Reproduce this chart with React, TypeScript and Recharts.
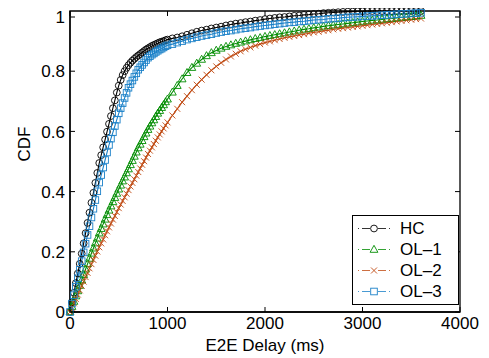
import { LineChart, Line, XAxis, YAxis, Legend, ReferenceArea } from 'recharts'

// E2E delay samples (ms): dense up to 1000, then every 50 ms
const delays = [
  0, 20, 40, 60, 80, 100, 120, 140, 160, 180, 200, 220, 240, 260, 280, 300, 320, 340, 360, 380,
  400, 420, 440, 460, 480, 500, 520, 540, 560, 580, 600, 620, 640, 660, 680, 700, 720, 740, 760, 780,
  800, 820, 840, 860, 880, 900, 920, 940, 960, 980, 1000,
  1050, 1100, 1150, 1200, 1250, 1300, 1350, 1400, 1450, 1500, 1550, 1600, 1650, 1700, 1750, 1800,
  1850, 1900, 1950, 2000, 2050, 2100, 2150, 2200, 2250, 2300, 2350, 2400, 2450, 2500, 2550, 2600,
  2650, 2700, 2750, 2800, 2850, 2900, 2950, 3000, 3050, 3100, 3150, 3200, 3250, 3300, 3350, 3400,
  3450, 3500, 3550, 3600,
]

const hc = [
  0, 0.032, 0.064, 0.096, 0.128, 0.16, 0.194, 0.228, 0.262, 0.296, 0.33, 0.363, 0.396, 0.429, 0.462, 0.495, 0.521, 0.547, 0.573, 0.599,
  0.625, 0.651, 0.677, 0.703, 0.729, 0.752, 0.771, 0.787, 0.8, 0.811, 0.82, 0.828, 0.835, 0.841, 0.847, 0.852, 0.857, 0.862, 0.867, 0.872,
  0.876, 0.88, 0.884, 0.887, 0.89, 0.893, 0.896, 0.898, 0.9, 0.903, 0.905,
  0.909, 0.912, 0.916, 0.921, 0.926, 0.931, 0.935, 0.938, 0.942, 0.945, 0.948, 0.952, 0.955, 0.958, 0.96, 0.963,
  0.965, 0.968, 0.97, 0.973, 0.975, 0.977, 0.979, 0.98, 0.982, 0.984, 0.985, 0.987, 0.988, 0.99, 0.991, 0.993,
  0.994, 0.995, 0.996, 0.997, 0.998, 0.998, 0.999, 0.999, 1, 1, 1, 1, 1, 1, 1, 1,
  1, 1, 1, 1,
]

const ol1 = [
  0, 0.018, 0.035, 0.053, 0.07, 0.088, 0.106, 0.124, 0.142, 0.16, 0.178, 0.195, 0.212, 0.229, 0.245, 0.262, 0.277, 0.292, 0.308, 0.323,
  0.338, 0.352, 0.366, 0.38, 0.394, 0.408, 0.421, 0.435, 0.448, 0.462, 0.475, 0.489, 0.503, 0.517, 0.531, 0.545, 0.557, 0.569, 0.582, 0.594,
  0.606, 0.617, 0.628, 0.638, 0.649, 0.66, 0.669, 0.679, 0.688, 0.698, 0.707,
  0.73, 0.752, 0.774, 0.795, 0.812, 0.826, 0.839, 0.851, 0.861, 0.869, 0.876, 0.882, 0.887, 0.892, 0.896, 0.9,
  0.904, 0.908, 0.911, 0.915, 0.918, 0.921, 0.924, 0.927, 0.93, 0.933, 0.936, 0.939, 0.941, 0.944, 0.946, 0.949,
  0.951, 0.953, 0.955, 0.957, 0.959, 0.961, 0.963, 0.965, 0.967, 0.969, 0.97, 0.972, 0.974, 0.975, 0.977, 0.979,
  0.98, 0.982, 0.983, 0.985,
]

const ol2 = [
  0, 0.014, 0.029, 0.043, 0.058, 0.072, 0.087, 0.101, 0.116, 0.13, 0.145, 0.159, 0.173, 0.187, 0.201, 0.215, 0.228, 0.241, 0.255, 0.268,
  0.281, 0.294, 0.307, 0.319, 0.332, 0.345, 0.357, 0.369, 0.381, 0.393, 0.405, 0.417, 0.429, 0.441, 0.453, 0.465, 0.477, 0.489, 0.501, 0.513,
  0.525, 0.536, 0.547, 0.558, 0.569, 0.58, 0.59, 0.6, 0.61, 0.62, 0.63,
  0.653, 0.675, 0.697, 0.717, 0.737, 0.755, 0.772, 0.788, 0.803, 0.816, 0.828, 0.839, 0.849, 0.858, 0.866, 0.873,
  0.879, 0.885, 0.89, 0.895, 0.899, 0.903, 0.907, 0.911, 0.914, 0.917, 0.92, 0.923, 0.926, 0.929, 0.931, 0.934,
  0.936, 0.939, 0.941, 0.943, 0.945, 0.947, 0.949, 0.951, 0.953, 0.955, 0.957, 0.959, 0.961, 0.963, 0.965, 0.967,
  0.969, 0.971, 0.973, 0.975,
]

const ol3 = [
  0, 0.028, 0.056, 0.084, 0.112, 0.14, 0.169, 0.198, 0.227, 0.256, 0.285, 0.314, 0.343, 0.372, 0.401, 0.43, 0.455, 0.48, 0.505, 0.53,
  0.555, 0.576, 0.597, 0.618, 0.639, 0.66, 0.677, 0.694, 0.711, 0.728, 0.745, 0.757, 0.769, 0.781, 0.793, 0.805, 0.813, 0.821, 0.829, 0.837,
  0.845, 0.85, 0.855, 0.859, 0.864, 0.868, 0.872, 0.875, 0.879, 0.883, 0.886,
  0.89, 0.895, 0.9, 0.905, 0.909, 0.913, 0.917, 0.92, 0.923, 0.927, 0.93, 0.933, 0.935, 0.938, 0.941, 0.943,
  0.945, 0.948, 0.95, 0.952, 0.954, 0.956, 0.958, 0.96, 0.962, 0.963, 0.965, 0.966, 0.968, 0.97, 0.971, 0.972,
  0.974, 0.975, 0.976, 0.978, 0.979, 0.98, 0.981, 0.982, 0.983, 0.984, 0.985, 0.986, 0.987, 0.988, 0.989, 0.99,
  0.991, 0.992, 0.993, 0.994,
]

const xTicks = [0, 1000, 2000, 3000, 4000]
const yTicks = [0, 0.2, 0.4, 0.6, 0.8, 1]

const data = delays.map((d, i) => ({ delay: d, hc: hc[i], ol1: ol1[i], ol2: ol2[i], ol3: ol3[i] }))

type Kind = 'circle' | 'triangle' | 'cross' | 'square'

const series: Array<{ key: string; name: string; color: string; kind: Kind }> = [
  { key: 'hc', name: 'HC', color: '#000000', kind: 'circle' },
  { key: 'ol1', name: 'OL\u20131', color: '#008c00', kind: 'triangle' },
  { key: 'ol2', name: 'OL\u20132', color: '#c04a12', kind: 'cross' },
  { key: 'ol3', name: 'OL\u20133', color: '#1a80c8', kind: 'square' },
]

const W = 481
const H = 350
const M = { top: 3, right: 29, left: 0, bottom: 0 }
const PLOT_LEFT = 62
const PLOT_TOP = 3
const PLOT_RIGHT = W - M.right
const PLOT_BOTTOM = 304
const FONT = '"Liberation Sans", Arial, Helvetica, sans-serif'
const TICK_LEN = 5

function marker(kind: Kind, cx: number, cy: number, color: string, key?: string | number) {
  const sw = 0.9
  if (kind === 'circle') return <circle key={key} cx={cx} cy={cy} r={3.4} fill="none" stroke={color} strokeWidth={sw} />
  if (kind === 'square')
    return <rect key={key} x={cx - 3.3} y={cy - 3.3} width={6.6} height={6.6} fill="none" stroke={color} strokeWidth={sw} />
  if (kind === 'triangle')
    return (
      <polygon
        key={key}
        points={`${cx},${cy - 4.2} ${cx - 3.9},${cy + 2.8} ${cx + 3.9},${cy + 2.8}`}
        fill="none"
        stroke={color}
        strokeWidth={sw}
      />
    )
  return (
    <path
      key={key}
      d={`M${cx - 3},${cy - 3}L${cx + 3},${cy + 3}M${cx - 3},${cy + 3}L${cx + 3},${cy - 3}`}
      stroke={color}
      strokeWidth={sw}
    />
  )
}

const dotFor = (kind: Kind, color: string) => (props: any) => {
  const { cx, cy, index } = props
  if (cx == null || cy == null) return <g key={`e-${index}`} />
  return marker(kind, cx, cy, color, `${kind}-${index}`)
}

// inward ticks on bottom and top edge, label below
function BottomTick({ x, payload }: any) {
  return (
    <g>
      <line x1={x} x2={x} y1={PLOT_BOTTOM} y2={PLOT_BOTTOM - TICK_LEN} stroke="#000" />
      <line x1={x} x2={x} y1={PLOT_TOP} y2={PLOT_TOP + TICK_LEN} stroke="#000" />
      <text x={x} y={PLOT_BOTTOM + 17} textAnchor="middle" fontSize={17} fontFamily={FONT} fill="#000">
        {payload.value}
      </text>
    </g>
  )
}

// inward ticks on left and right edge, label left
function LeftTick({ y, payload }: any) {
  return (
    <g>
      <line x1={PLOT_LEFT} x2={PLOT_LEFT + TICK_LEN} y1={y} y2={y} stroke="#000" />
      <line x1={PLOT_RIGHT} x2={PLOT_RIGHT - TICK_LEN} y1={y} y2={y} stroke="#000" />
      <text x={PLOT_LEFT - 5} y={y} dy="0.36em" textAnchor="end" fontSize={17} fontFamily={FONT} fill="#000">
        {payload.value}
      </text>
    </g>
  )
}

function XTitle({ viewBox }: any) {
  const { x, width } = viewBox
  return (
    <text x={x + width / 2} y={PLOT_BOTTOM + 39} textAnchor="middle" fontSize={17} fontFamily={FONT} fill="#000">
      E2E Delay (ms)
    </text>
  )
}

function LegendBox() {
  return (
    <div
      style={{
        border: '1.5px solid #000',
        background: '#fff',
        boxSizing: 'border-box',
        height: 90,
        padding: '2px 0 0 4px',
        fontFamily: FONT,
        fontSize: 17,
      }}
    >
      {series.map((s) => (
        <div key={s.key} style={{ display: 'flex', alignItems: 'center', height: 21 }}>
          <svg width={34} height={21}>
            <line x1={1} x2={33} y1={10.5} y2={10.5} stroke={s.color} strokeWidth={0.8} strokeDasharray="1 3 8 8 8 3 1" />
            {marker(s.kind, 17, 10.5, s.color)}
          </svg>
          <span style={{ marginLeft: 9, lineHeight: '21px' }}>{s.name}</span>
        </div>
      ))}
    </div>
  )
}

export default function App() {
  return (
    <LineChart width={W} height={H} data={data} margin={M}>
      <ReferenceArea x1={0} x2={4000} y1={0} y2={1} fill="none" stroke="#000" strokeWidth={1.3} ifOverflow="visible" />
      <XAxis
        dataKey="delay"
        type="number"
        domain={[0, 4000]}
        ticks={xTicks}
        tick={<BottomTick />}
        tickLine={false}
        axisLine={{ stroke: '#000', strokeWidth: 1.3 }}
        height={H - PLOT_BOTTOM}
        label={{ content: <XTitle /> }}
      />
      <YAxis
        type="number"
        domain={[0, 1]}
        ticks={yTicks}
        tick={<LeftTick />}
        tickLine={false}
        axisLine={{ stroke: '#000', strokeWidth: 1.3 }}
        width={PLOT_LEFT}
        label={{ value: 'CDF', angle: -90, position: 'insideLeft', offset: 16, fontSize: 17, fontFamily: FONT, fill: '#000' }}
      />
      {series.map((s) => (
        <Line
          key={s.key}
          type="linear"
          dataKey={s.key}
          name={s.name}
          stroke={s.color}
          strokeWidth={1.1}
          dot={dotFor(s.kind, s.color)}
          activeDot={false}
          isAnimationActive={false}
        />
      ))}
      <Legend
        layout="vertical"
        align="center"
        verticalAlign="middle"
        content={<LegendBox />}
        wrapperStyle={{ left: 344, top: 207, width: 107, height: 90 }}
      />
    </LineChart>
  )
}
